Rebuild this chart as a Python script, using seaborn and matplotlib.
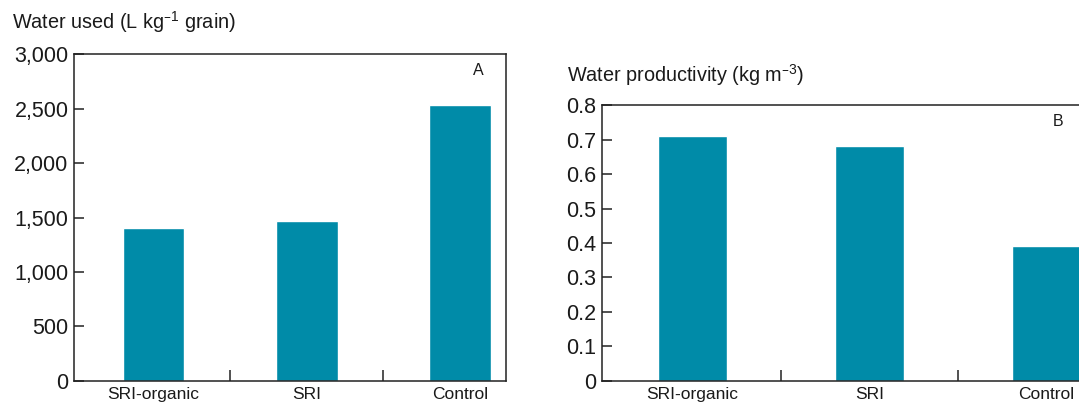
import matplotlib
matplotlib.use("Agg")
import matplotlib.pyplot as plt
import seaborn as sns

# data
categories = ["SRI-organic", "SRI", "Control"]
water_used = [1400, 1470, 2530]           # L kg-1 grain
water_productivity = [0.71, 0.68, 0.39]   # kg m-3

bar_color = "#008ba8"

sns.set_theme(style="white")
plt.rcParams["font.family"] = ["Liberation Sans", "DejaVu Sans"]
plt.rcParams["mathtext.default"] = "regular"

fig = plt.figure(figsize=(10.79, 4.07), dpi=100)
ax_a = fig.add_axes([0.0686, 0.0639, 0.4004, 0.8034])
ax_b = fig.add_axes([0.5579, 0.0639, 0.4940, 0.6781])


def style_panel(ax, ticks, labels, ylim, xlim):
    ax.set_ylim(*ylim)
    ax.set_xlim(*xlim)
    ax.set_yticks(ticks)
    ax.set_yticklabels(labels, fontsize=15.5, color="#1a1a1a")
    ax.set_xticks(range(len(categories)))
    ax.set_xticklabels(categories, fontsize=12.5, color="#1a1a1a")
    ax.set_xticks([0.5, 1.5], minor=True)
    ax.tick_params(axis="x", which="major", length=0, pad=4)
    ax.tick_params(axis="x", which="minor", direction="in", length=8,
                   width=1.1, color="#222222", bottom=True)
    ax.tick_params(axis="y", direction="in", length=7, width=1.1,
                   color="#222222", left=True, pad=4)
    ax.set_xlabel("")
    ax.set_ylabel("")
    for s in ax.spines.values():
        s.set_color("#222222")
        s.set_linewidth(1.1)


# Panel A
sns.barplot(x=categories, y=water_used, color=bar_color, saturation=1,
            width=0.4, ax=ax_a)
style_panel(ax_a, [0, 500, 1000, 1500, 2000, 2500, 3000],
            ["0", "500", "1,000", "1,500", "2,000", "2,500", "3,000"],
            (0, 3000), (-0.52, 2.30))
ax_a.text(0.935, 0.95, "A", transform=ax_a.transAxes, fontsize=11.5,
          ha="center", va="center", color="#1a1a1a")
fig.text(12 / 1079, 1 - 22 / 407, "Water used (L kg$^{\u20131}$ grain)",
         fontsize=14.3, ha="left", va="center", color="#1a1a1a")

# Panel B (right edge runs past the figure, as in the source)
sns.barplot(x=categories, y=water_productivity, color=bar_color,
            saturation=1, width=0.39, ax=ax_b)
style_panel(ax_b, [0, 0.1, 0.2, 0.3, 0.4, 0.5, 0.6, 0.7, 0.8],
            ["0", "0.1", "0.2", "0.3", "0.4", "0.5", "0.6", "0.7", "0.8"],
            (0, 0.8), (-0.51, 2.5))
fig.text(1058 / 1079, 1 - 122 / 407, "B", fontsize=11.5, ha="center",
         va="center", color="#1a1a1a")
fig.text(567 / 1079, 1 - 75 / 407, "Water productivity (kg m$^{\u20133}$)",
         fontsize=14.3, ha="left", va="center", color="#1a1a1a")

fig.savefig("out.png", dpi=100)
